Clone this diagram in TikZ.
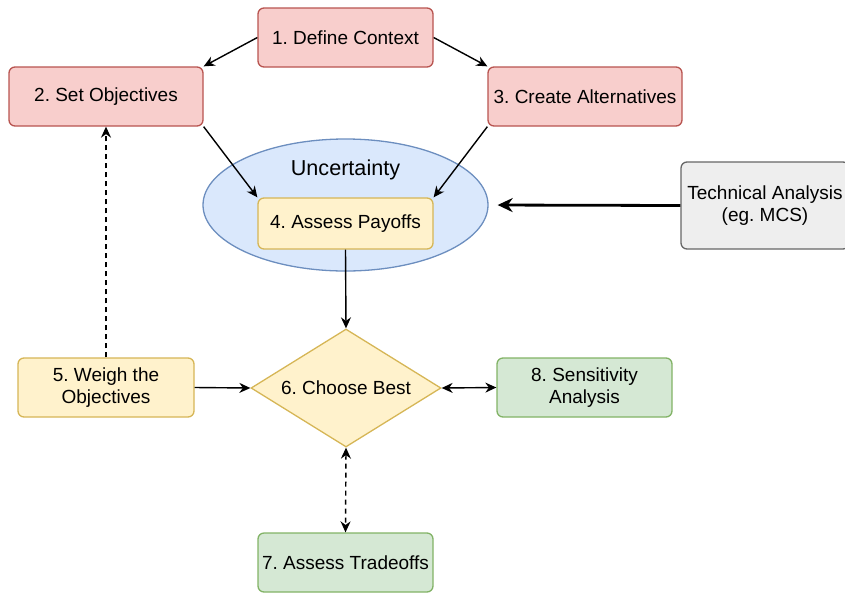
\documentclass[tikz,border=0pt]{standalone}
\usepackage{fontspec}
\setmainfont{Liberation Sans}
\usetikzlibrary{arrows.meta,shapes.geometric}
\frenchspacing

\definecolor{redfill}{HTML}{F8CECC}
\definecolor{redline}{HTML}{B85450}
\definecolor{bluefill}{HTML}{DAE8FC}
\definecolor{blueline}{HTML}{6C8EBF}
\definecolor{yellowfill}{HTML}{FFF2CC}
\definecolor{yellowline}{HTML}{D6B656}
\definecolor{greenfill}{HTML}{D5E8D4}
\definecolor{greenline}{HTML}{82B366}
\definecolor{grayfill}{HTML}{EEEEEE}
\definecolor{grayline}{HTML}{666666}

\tikzset{
  box/.style={draw, rounded corners=6pt, line width=1.3pt, minimum height=59pt,
    inner sep=0pt, align=center, font=\fontsize{19}{22}\selectfont},
  redbox/.style={box, fill=redfill, draw=redline},
  yellowbox/.style={box, fill=yellowfill, draw=yellowline},
  greenbox/.style={box, fill=greenfill, draw=greenline},
  graybox/.style={box, fill=grayfill, draw=grayline},
  arr/.style={-{Stealth[length=11pt,width=10pt]}, line width=1.4pt},
  dblarr/.style={{Stealth[length=11pt,width=10pt]}-{Stealth[length=11pt,width=10pt]}, line width=1.4pt},
}

\begin{document}
\begin{tikzpicture}[x=1pt,y=-1pt]

	\useasboundingbox (0,0) rectangle (845,592);

	% top row
	\node[redbox, minimum width=175pt] (context) at (345.5,37.5) {1. Define Context};
	\node[redbox, minimum width=194pt] (objectives) at (106,96.5) {2. Set Objectives};
	\node[redbox, minimum width=194pt] (alternatives) at (585,96.5) {3. Create Alternatives};

	% uncertainty
	\node[ellipse, draw=blueline, fill=bluefill, line width=1.3pt,
	      minimum width=285pt, minimum height=132pt] (uncertainty) at (345.5,205) {};
	\node[font=\fontsize{21.6}{24}\selectfont] (unctext) at (345.5,170) {Uncertainty};
	\node[yellowbox, minimum width=175pt, minimum height=51pt] (payoffs) at (345.5,223.5) {4. Assess Payoffs};

	\node[graybox, minimum width=168pt, minimum height=87pt] (technical) at (765,205.5)
	     {Technical Analysis\\(eg. MCS)};

	% middle row
	\node[yellowbox, minimum width=176pt] (weigh) at (106,387.5) {5. Weigh the\\Objectives};
	\node[diamond, aspect=1.6, draw=yellowline, fill=yellowfill, line width=1.3pt, inner sep=0pt,
	      minimum width=190pt, minimum height=118pt, font=\fontsize{19}{22}\selectfont]
	      (best) at (346,388) {6. Choose Best};
	\node[greenbox, minimum width=175pt] (sensitivity) at (584.5,387.5) {8. Sensitivity\\Analysis};

	\node[greenbox, minimum width=175pt] (tradeoffs) at (345.5,562.5) {7. Assess Tradeoffs};

	% connectors
	\draw[arr] (context.west) -- (objectives.north east);
	\draw[arr] (context.east) -- (alternatives.north west);
	\draw[arr] (objectives.south east) -- (payoffs.north west);
	\draw[arr] (alternatives.south west) -- (payoffs.north east);
	\draw[-{Stealth[length=15pt,width=14pt]}, line width=2.8pt, shorten >=9pt]
	     (technical.west) -- (uncertainty.east);
	\draw[arr] (payoffs.south) -- (best.north);
	\draw[arr, dash pattern=on 5pt off 4pt] (weigh.north) -- (objectives.south);
	\draw[arr] (weigh.east) -- (best.west);
	\draw[dblarr] (best.east) -- (sensitivity.west);
	\draw[dblarr, dash pattern=on 5pt off 4pt] (best.south) -- (tradeoffs.north);

\end{tikzpicture}
\end{document}
